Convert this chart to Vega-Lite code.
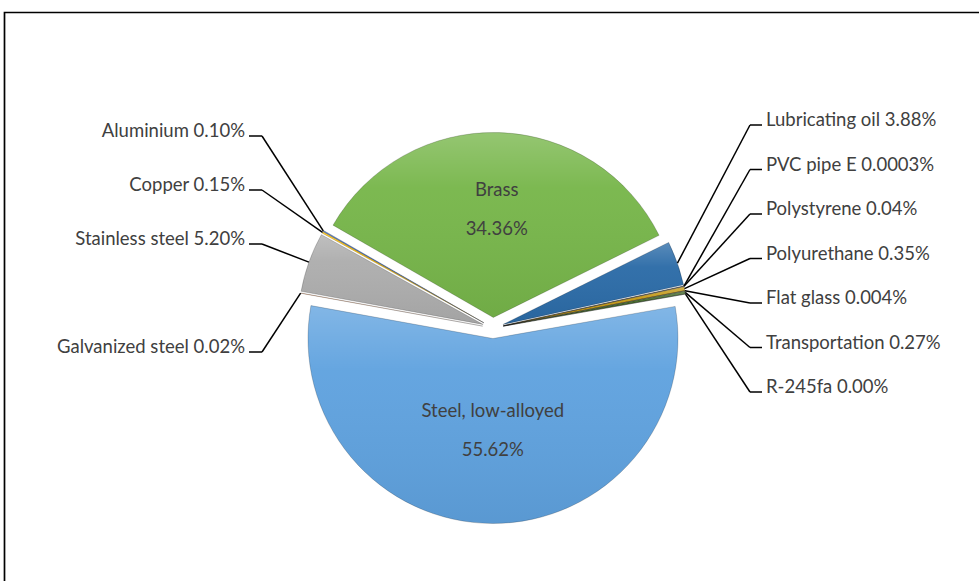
{
  "$schema": "https://vega.github.io/schema/vega-lite/v6.json",
  "width": 990,
  "height": 585,
  "padding": {"left": 4.5, "top": 12.5, "right": 0, "bottom": 0},
  "autosize": {"type": "none"},
  "background": "#ffffff",
  "view": {"stroke": "#000000", "strokeWidth": 1.7},
  "config": {"text": {"font": "Lato", "fontSize": 18.5, "color": "#404040"}},
  "data": {
    "values": [
      {"name": "Steel, low-alloyed", "value": 55.62},
      {"name": "Galvanized steel", "value": 0.02},
      {"name": "Stainless steel", "value": 5.20},
      {"name": "Copper", "value": 0.15},
      {"name": "Aluminium", "value": 0.10},
      {"name": "Brass", "value": 34.36},
      {"name": "Lubricating oil", "value": 3.88},
      {"name": "PVC pipe E", "value": 0.0003},
      {"name": "Polystyrene", "value": 0.04},
      {"name": "Polyurethane", "value": 0.35},
      {"name": "Flat glass", "value": 0.004},
      {"name": "Transportation", "value": 0.27},
      {"name": "R-245fa", "value": 0.00}
    ]
  },
  "transform": [
    {"window": [{"op": "row_number", "as": "idx"}, {"op": "sum", "field": "value", "as": "cum"}], "frame": [null, 0]},
    {"joinaggregate": [{"op": "sum", "field": "value", "as": "tot"}]},
    {"calculate": "1.3963 + 2*PI*(datum.cum - datum.value)/datum.tot", "as": "a0"},
    {"calculate": "1.3963 + 2*PI*datum.cum/datum.tot", "as": "a1"},
    {"calculate": "(datum.a0 + datum.a1)/2", "as": "mid"},
    {"calculate": "0.0568*sin(datum.mid)", "as": "cx"},
    {"calculate": "0.0568*cos(datum.mid)", "as": "cy"},
    {"calculate": "datum.name + ' ' + ((datum.value >= 0.01 || datum.value == 0) ? format(datum.value, '.2f') : toString(datum.value)) + '%'", "as": "label"}
  ],
  "layer": [
    {
      "mark": {"type": "arc", "radius": 185},
      "encoding": {
        "x": {"field": "cx", "type": "quantitative", "scale": {"domain": [-2.64054, 2.71081], "nice": false, "zero": false}, "axis": null},
        "y": {"field": "cy", "type": "quantitative", "scale": {"domain": [-1.45676, 1.70541], "nice": false, "zero": false}, "axis": null},
        "theta": {"field": "a0", "type": "quantitative", "scale": null, "stack": null},
        "theta2": {"field": "a1"},
        "color": {
          "field": "name", "type": "nominal", "legend": null,
          "scale": {
            "domain": ["Steel, low-alloyed", "Galvanized steel", "Stainless steel", "Copper", "Aluminium", "Brass", "Lubricating oil", "PVC pipe E", "Polystyrene", "Polyurethane", "Flat glass", "Transportation", "R-245fa"],
            "range": ["#5fa2df", "#ED7D31", "#adadad", "#FFC000", "#4472C4", "#77b64a", "#2b6ba7", "#9E480E", "#636363", "#c49a18", "#264478", "#43682B", "#698ED0"]
          }
        }
      }
    },
    {
      "mark": {
        "type": "arc", "radius": 185,
        "stroke": "#000000", "strokeOpacity": 0.18, "strokeWidth": 1,
        "fill": {
          "gradient": "linear", "x1": 0, "y1": 0, "x2": 0, "y2": 1,
          "stops": [
            {"offset": 0, "color": "rgba(255,255,255,0.22)"},
            {"offset": 0.3, "color": "rgba(255,255,255,0.04)"},
            {"offset": 1, "color": "rgba(0,0,0,0.06)"}
          ]
        }
      },
      "encoding": {
        "x": {"field": "cx", "type": "quantitative", "scale": {"domain": [-2.64054, 2.71081], "nice": false, "zero": false}, "axis": null},
        "y": {"field": "cy", "type": "quantitative", "scale": {"domain": [-1.45676, 1.70541], "nice": false, "zero": false}, "axis": null},
        "theta": {"field": "a0", "type": "quantitative", "scale": null, "stack": null},
        "theta2": {"field": "a1"}
      }
    },
    {
      "transform": [
        {"filter": "datum.value > 20"},
        {"calculate": "0.72 - 0.004*datum.value", "as": "f"},
        {"calculate": "datum.cx + datum.f*sin(datum.mid)", "as": "tx"},
        {"calculate": "datum.cy + datum.f*cos(datum.mid)", "as": "ty"},
        {"calculate": "[datum.name, format(datum.value, '.2f') + '%']", "as": "txt"}
      ],
      "mark": {"type": "text", "lineHeight": 39, "baseline": "middle", "align": "center", "dy": -19.5},
      "encoding": {
        "x": {"field": "tx", "type": "quantitative", "scale": {"domain": [-2.64054, 2.71081], "nice": false, "zero": false}, "axis": null},
        "y": {"field": "ty", "type": "quantitative", "scale": {"domain": [-1.45676, 1.70541], "nice": false, "zero": false}, "axis": null},
        "text": {"field": "txt"}
      }
    },
    {
      "transform": [
        {"filter": "datum.value <= 20"},
        {"calculate": "sin(datum.mid) > 0 ? 'R' : 'L'", "as": "side"},
        {"calculate": "datum.side == 'R' ? datum.idx : -datum.idx", "as": "sk"},
        {"window": [{"op": "row_number", "as": "rk"}], "groupby": ["side"], "sort": [{"field": "sk", "order": "ascending"}]},
        {"calculate": "datum.side == 'L' ? datum.rk - 1 + (datum.rk >= 4 ? 1 : 0) : datum.rk - 1", "as": "slot"},
        {"calculate": "datum.side == 'L' ? (328 - 131 - 54*datum.slot)/185 : (328 - 120 - 44.5*datum.slot)/185", "as": "ly"},
        {"calculate": "1.0568*sin(datum.mid)", "as": "sx"},
        {"calculate": "1.0568*cos(datum.mid)", "as": "sy"},
        {"calculate": "datum.side == 'L' ? (262 - 493)/185 : (750 - 493)/185", "as": "ex"},
        {"calculate": "datum.ly - 5/185", "as": "ey"},
        {"calculate": "datum.side == 'L' ? (249 - 493)/185 : (762 - 493)/185", "as": "hx"},
        {"calculate": "datum.side == 'L' ? (245 - 493)/185 : (766 - 493)/185", "as": "lx"}
      ],
      "layer": [
        {
          "mark": {"type": "rule", "color": "#000000", "strokeWidth": 1.5},
          "encoding": {
            "x": {"field": "sx", "type": "quantitative", "scale": {"domain": [-2.64054, 2.71081], "nice": false, "zero": false}, "axis": null},
            "y": {"field": "sy", "type": "quantitative", "scale": {"domain": [-1.45676, 1.70541], "nice": false, "zero": false}, "axis": null},
            "x2": {"field": "ex"},
            "y2": {"field": "ey"}
          }
        },
        {
          "mark": {"type": "rule", "color": "#000000", "strokeWidth": 1.5},
          "encoding": {
            "x": {"field": "ex", "type": "quantitative", "scale": {"domain": [-2.64054, 2.71081], "nice": false, "zero": false}, "axis": null},
            "y": {"field": "ey", "type": "quantitative", "scale": {"domain": [-1.45676, 1.70541], "nice": false, "zero": false}, "axis": null},
            "x2": {"field": "hx"},
            "y2": {"field": "ey"}
          }
        },
        {
          "transform": [{"filter": "datum.side == 'L'"}],
          "mark": {"type": "text", "align": "right", "baseline": "middle"},
          "encoding": {
            "x": {"field": "lx", "type": "quantitative", "scale": {"domain": [-2.64054, 2.71081], "nice": false, "zero": false}, "axis": null},
            "y": {"field": "ly", "type": "quantitative", "scale": {"domain": [-1.45676, 1.70541], "nice": false, "zero": false}, "axis": null},
            "text": {"field": "label"}
          }
        },
        {
          "transform": [{"filter": "datum.side == 'R'"}],
          "mark": {"type": "text", "align": "left", "baseline": "middle"},
          "encoding": {
            "x": {"field": "lx", "type": "quantitative", "scale": {"domain": [-2.64054, 2.71081], "nice": false, "zero": false}, "axis": null},
            "y": {"field": "ly", "type": "quantitative", "scale": {"domain": [-1.45676, 1.70541], "nice": false, "zero": false}, "axis": null},
            "text": {"field": "label"}
          }
        }
      ]
    }
  ]
}
